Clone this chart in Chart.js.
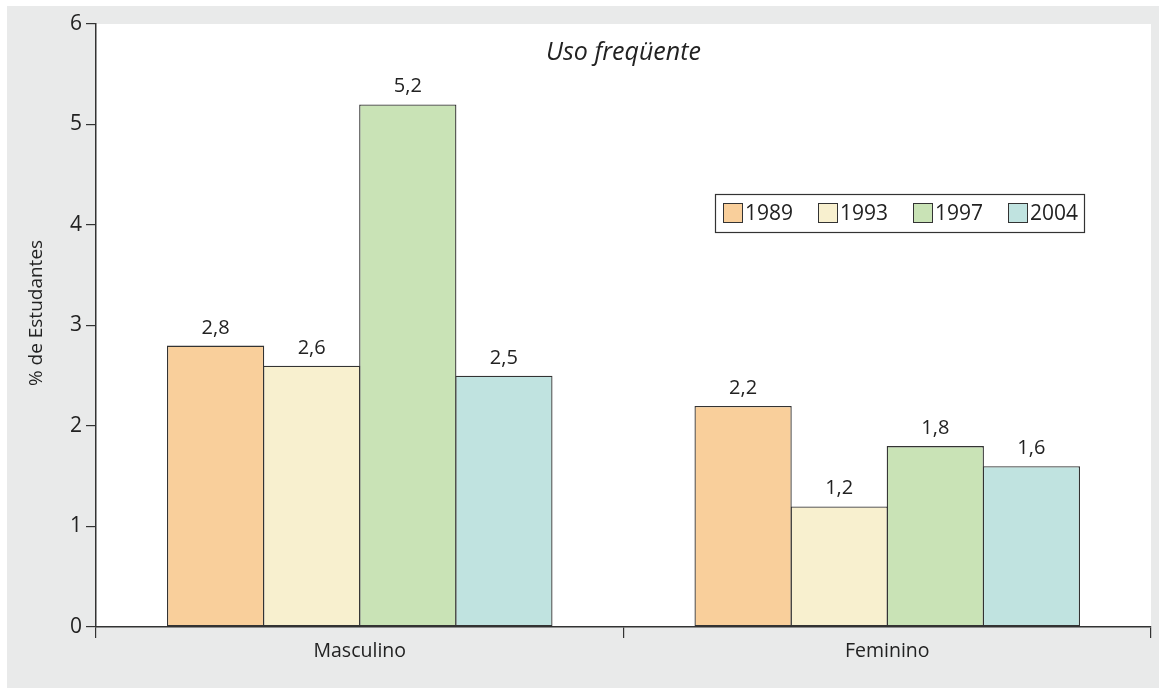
<!DOCTYPE html>
<html>
<head>
<meta charset="utf-8">
<script src="https://cdn.jsdelivr.net/npm/chart.js@4.4.1/dist/chart.umd.min.js"></script>
<style>
html,body{margin:0;padding:0;background:#fff;}
#wrap{width:1159px;height:689px;position:relative;}
</style>
</head>
<body>
<div id="wrap"><canvas id="chart"></canvas></div>
<script>
// data
const categories = ["Masculino","Feminino"];
const years = ["1989","1993","1997","2004"];
const v1989 = [2.8, 2.2];
const v1993 = [2.6, 1.2];
const v1997 = [5.2, 1.8];
const v2004 = [2.5, 1.6];
const yTicks = [0,1,2,3,4,5,6];

const colors = ["#f9cf9b","#f8f0cf","#c9e3b6","#c0e3e0"];
const ink = "#333333";
const fontFam = "'Open Sans','Noto Sans',sans-serif";

function fmt(v){ return String(v).replace(".", ","); }

const series = [v1989, v1993, v1997, v2004];

// background, title, legend, value labels, axis title
const decor = {
id:"decor",
beforeDraw(chart){
const c = chart.ctx, a = chart.chartArea;
c.save();
c.fillStyle = "#e9eaea";
c.fillRect(7, 6, chart.width - 7, chart.height - 7);
c.fillStyle = "#ffffff";
c.fillRect(a.left, a.top, a.right - a.left, a.bottom - a.top);
c.restore();
},
afterDraw(chart){
const c = chart.ctx, a = chart.chartArea;
c.save();
// title
c.fillStyle = "#222";
c.font = "italic 25px " + fontFam;
c.textAlign = "center";
c.textBaseline = "middle";
c.fillText("Uso freqüente", (a.left + a.right)/2, 53);

// value labels
c.font = "20px " + fontFam;
c.textBaseline = "alphabetic";
chart.data.datasets.forEach((ds,i)=>{
chart.getDatasetMeta(i).data.forEach((bar,j)=>{
c.fillText(fmt(ds.data[j]), bar.x, bar.y - 12);
});
});

// y axis title
c.save();
c.translate(37, 313);
c.rotate(-Math.PI/2);
c.font = "19px " + fontFam;
c.textBaseline = "middle";
c.fillText("% de Estudantes", 0, 0);
c.restore();

// legend box
const lx = 715, ly = 194, lw = 369, lh = 38;
c.fillStyle = "#fff";
c.fillRect(lx, ly, lw, lh);
c.strokeStyle = ink;
c.lineWidth = 1.2;
c.strokeRect(lx + 0.5, ly + 0.5, lw, lh);
c.font = "21px " + fontFam;
c.textAlign = "left";
c.textBaseline = "middle";
chart.data.datasets.forEach((ds,i)=>{
const x = lx + 8 + i*95;
c.fillStyle = ds.backgroundColor;
c.fillRect(x, ly + 9, 19, 19);
c.strokeStyle = ink;
c.lineWidth = 1;
c.strokeRect(x + 0.5, ly + 9.5, 19, 19);
c.fillStyle = "#222";
c.fillText(ds.label, x + 22, ly + lh/2 + 1);
});
c.restore();
}
};

new Chart(document.getElementById("chart"), {
type:"bar",
data:{
labels:categories,
datasets: years.map((y,i)=>({
label:y,
data:series[i],
backgroundColor:colors[i],
borderColor:ink,
borderWidth:1.3,
borderSkipped:false,
categoryPercentage:0.7287,
barPercentage:1.012
}))
},
options:{
responsive:true,
maintainAspectRatio:false,
animation:false,
layout:{padding:{left:0, top:24, right:8, bottom:0}},
plugins:{legend:{display:false}, title:{display:false}, tooltip:{enabled:false}},
scales:{
x:{
afterFit(s){ s.height = 62; },
grid:{offset:true, drawOnChartArea:false, tickLength:11, color:ink, lineWidth:1.2},
border:{color:ink, width:1.5},
ticks:{color:"#222", font:{family:fontFam, size:19.5}, padding:2}
},
y:{
min:0, max:6,
afterFit(s){ s.width = 96; },
afterBuildTicks(s){ s.ticks = yTicks.map(v=>({value:v})); },
grid:{drawOnChartArea:false, tickLength:10, color:ink, lineWidth:1.2},
border:{color:ink, width:1.5},
ticks:{color:"#222", font:{family:fontFam, size:21}, padding:4}
}
}
},
plugins:[decor]
});
</script>
</body>
</html>
